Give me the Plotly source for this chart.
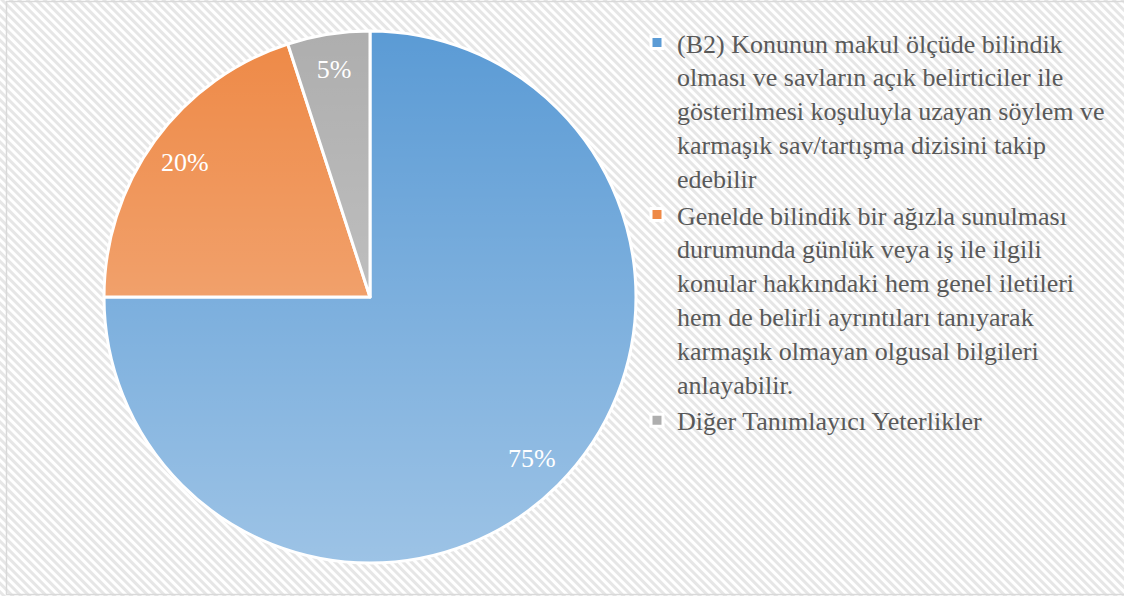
import base64
import plotly.graph_objects as go

labels = [
    "(B2) Konunun makul ölçüde bilindik<br>olması ve savların açık belirticiler ile<br>gösterilmesi koşuluyla uzayan söylem ve<br>karmaşık sav/tartışma dizisini takip<br>edebilir",
    "Genelde bilindik bir ağızla sunulması<br>durumunda günlük veya iş ile ilgili<br>konular hakkındaki hem genel iletileri<br>hem de belirli ayrıntıları tanıyarak<br>karmaşık olmayan olgusal bilgileri<br>anlayabilir.",
    "Diğer Tanımlayıcı Yeterlikler",
]
values = [75, 20, 5]
colors = ["#5B9BD5", "#EE8946", "#AEAEAE"]

W, H = 1124, 596
cx, cy, r = 370, 297, 266
dom_x = [(cx - r) / W, (cx + r) / W]
dom_y = [(H - cy - r) / H, (H - cy + r) / H]

FONT = "Liberation Serif"

fig = go.Figure()
fig.add_trace(go.Pie(
    labels=labels, values=values, sort=False, direction="clockwise", rotation=0,
    marker=dict(colors=colors, line=dict(color="white", width=3)),
    textinfo="none", domain=dict(x=dom_x, y=dom_y), hoverinfo="label+percent",
))
# label ring: transparent donut carrying the percentage texts
fig.add_trace(go.Pie(
    labels=labels, values=values, sort=False, direction="clockwise", rotation=0,
    hole=0.72, showlegend=False, hoverinfo="skip",
    marker=dict(colors=["rgba(0,0,0,0)"] * 3, line=dict(width=0)),
    textinfo="percent", textposition="inside", insidetextorientation="horizontal",
    textfont=dict(family=FONT, size=26, color="white"),
    domain=dict(x=dom_x, y=dom_y),
))

hatch = (f"<svg xmlns='http://www.w3.org/2000/svg' width='{W}' height='{H}'>"
         "<defs><pattern id='p' width='6' height='6' patternUnits='userSpaceOnUse' patternTransform='rotate(-45)'>"
         "<rect width='6' height='6' fill='white'/><rect width='3' height='6' fill='#e6e6e6'/></pattern></defs>"
         "<rect width='100%' height='100%' fill='url(#p)'/></svg>")
grad = ("<svg xmlns='http://www.w3.org/2000/svg' width='200' height='200' viewBox='0 0 100 100' preserveAspectRatio='none'>"
        "<defs><linearGradient id='g' x1='0' y1='0' x2='0' y2='1'>"
        "<stop offset='0' stop-color='white' stop-opacity='0'/>"
        "<stop offset='1' stop-color='white' stop-opacity='0.4'/></linearGradient></defs>"
        "<circle cx='50' cy='50' r='50' fill='url(#g)'/></svg>")

def uri(s):
    return "data:image/svg+xml;base64," + base64.b64encode(s.encode()).decode()

fig.update_layout(
    width=W, height=H, margin=dict(l=0, r=0, t=0, b=0),
    paper_bgcolor="white",
    font=dict(family=FONT, color="#595959"),
    images=[
        dict(source=uri(hatch), xref="paper", yref="paper", x=0, y=1, sizex=1, sizey=1,
             sizing="stretch", xanchor="left", yanchor="top", layer="below"),
        dict(source=uri(grad), xref="paper", yref="paper", x=dom_x[0], y=dom_y[1],
             sizex=dom_x[1] - dom_x[0], sizey=dom_y[1] - dom_y[0],
             sizing="stretch", xanchor="left", yanchor="top", layer="above"),
    ],
    shapes=[dict(type="rect", xref="paper", yref="paper",
                 x0=6.5 / W, x1=1.01, y0=1 - 594.5 / H, y1=1 - 1.5 / H,
                 line=dict(color="#D9D9D9", width=1.5), fillcolor="rgba(0,0,0,0)")],
    legend=dict(x=637 / W, y=1 - 19 / H, xanchor="left", yanchor="top",
                valign="top", bgcolor="rgba(0,0,0,0)",
                font=dict(family=FONT, size=26, color="#595959")),
)

fig.write_html("out.html", config={"displayModeBar": False},
               post_script="document.body.style.margin='0';document.body.style.overflow='hidden';")
